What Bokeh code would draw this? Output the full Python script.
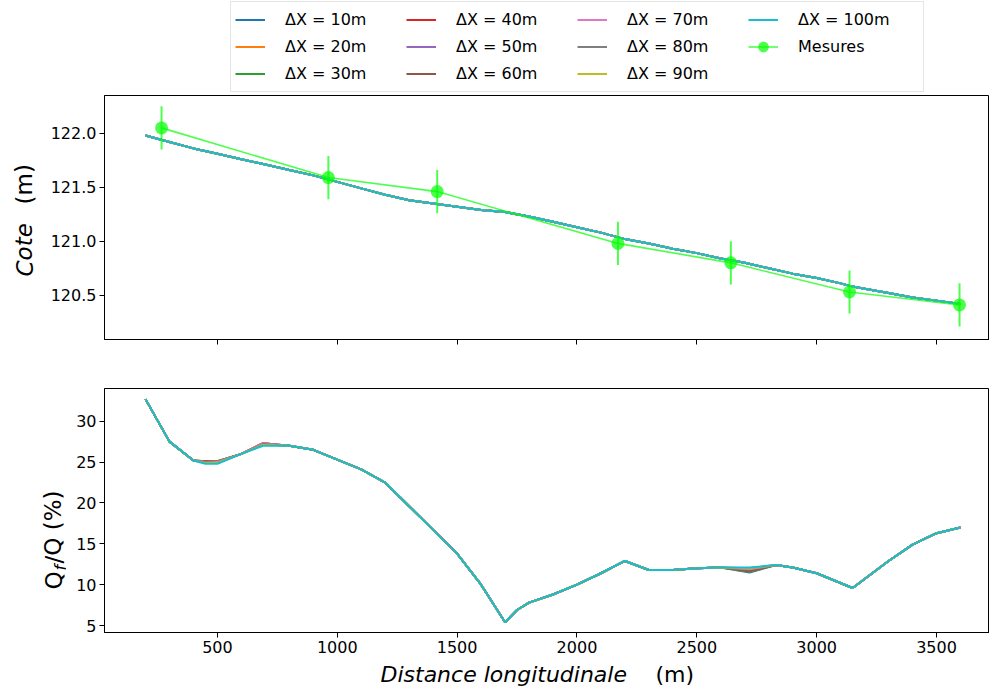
from bokeh.plotting import figure
from bokeh.models import (Range1d, FixedTicker, Legend, LegendItem, Label,
                          CustomJSTickFormatter)
from bokeh.layouts import column, row
from bokeh.embed import file_html
from bokeh.resources import INLINE

# ---------------- data ----------------
dx_labels = ["ΔX = 10m", "ΔX = 20m", "ΔX = 30m", "ΔX = 40m", "ΔX = 50m",
             "ΔX = 60m", "ΔX = 70m", "ΔX = 80m", "ΔX = 90m", "ΔX = 100m"]
colors = ["#1f77b4", "#ff7f0e", "#2ca02c", "#d62728", "#9467bd",
          "#8c564b", "#e377c2", "#7f7f7f", "#bcbd22", "#17becf"]

x_cote = [200, 300, 400, 500, 600, 700, 800, 900, 1000, 1100, 1200, 1300,
          1400, 1500, 1600, 1700, 1800, 1900, 2000, 2100, 2200, 2300, 2400,
          2500, 2600, 2700, 2800, 2900, 3000, 3100, 3150, 3200, 3300, 3400,
          3500, 3600]
cote_sim = [121.98, 121.92, 121.86, 121.81, 121.76, 121.71, 121.66, 121.61,
            121.55, 121.49, 121.43, 121.38, 121.35, 121.32, 121.29, 121.27,
            121.23, 121.18, 121.13, 121.08, 121.02, 120.98, 120.93, 120.89,
            120.84, 120.80, 120.75, 120.70, 120.66, 120.61, 120.58, 120.56,
            120.52, 120.48, 120.45, 120.42]

x_mes = [267, 963, 1417, 2171, 2642, 3137, 3596]
cote_mes = [122.05, 121.59, 121.46, 120.98, 120.80, 120.53, 120.41]
err_mes = [0.2, 0.2, 0.2, 0.2, 0.2, 0.2, 0.2]

x_q = [200, 300, 400, 450, 500, 600, 690, 800, 900, 1000, 1100, 1200, 1300,
       1400, 1500, 1600, 1700, 1750, 1800, 1900, 2000, 2100, 2200, 2300,
       2400, 2500, 2600, 2720, 2830, 2900, 3000, 3150, 3200, 3300, 3400,
       3500, 3600]
q_base = [32.7, 27.5, 25.2, 25.0, 25.0, 26.0, 27.2, 27.0, 26.5, 25.3, 24.1,
          22.5, 19.6, 16.7, 13.8, 10.0, 5.4, 6.9, 7.8, 8.8, 10.0, 11.4, 12.9,
          11.8, 11.8, 12.0, 12.1, 12.1, 12.4, 12.1, 11.4, 9.6, 10.7, 12.9,
          14.9, 16.3, 17.0]
# per-series values where the curves separate slightly
q_var_450 = [25.1, 25.1, 25.0, 25.1, 25.0, 25.0, 25.0, 25.0, 24.9, 24.8]
q_var_500 = [25.1, 25.1, 25.1, 25.0, 25.0, 25.0, 25.0, 24.9, 24.9, 24.8]
q_var_690 = [27.3, 27.3, 27.2, 27.3, 27.2, 27.2, 27.3, 27.2, 27.1, 27.0]
q_var_2720 = [11.5, 11.6, 11.6, 11.7, 11.8, 11.8, 11.9, 12.0, 12.0, 12.1]

x_ticks = [500, 1000, 1500, 2000, 2500, 3000, 3500]
cote_ticks = [120.5, 121.0, 121.5, 122.0]
q_ticks = [5, 10, 15, 20, 25, 30]

FONT = "DejaVu Sans"
GREEN = "#00ff00"
NAN = float("nan")


def style(p, standoff):
    p.outline_line_color = "black"
    p.outline_line_width = 1
    p.xgrid.visible = False
    p.ygrid.visible = False
    p.background_fill_color = "white"
    p.border_fill_color = "white"
    for ax in p.below + p.left:
        ax.axis_line_color = "black"
        ax.major_tick_line_color = "black"
        ax.major_tick_out = 5
        ax.major_tick_in = 0
        ax.minor_tick_line_color = None
        ax.major_label_text_font = FONT
        ax.major_label_text_font_size = "16px"
        ax.major_label_text_color = "black"
        ax.major_label_standoff = standoff
        ax.axis_label = None
        ax.axis_label_standoff = 0


def blank(w, h):
    f = figure(frame_width=w, frame_height=h, x_range=Range1d(0, w),
               y_range=Range1d(0, h), x_axis_type=None, y_axis_type=None,
               title=None, output_backend="svg", toolbar_location=None,
               min_border_left=0, min_border_right=0, min_border_top=0,
               min_border_bottom=0)
    f.outline_line_color = None
    f.xgrid.visible = False
    f.ygrid.visible = False
    f.background_fill_color = "white"
    f.border_fill_color = "white"
    return f


def txt(f, x, y, s, size="23px", style_="normal", align="left", angle=0.0):
    f.add_layout(Label(x=x, y=y, text=s, angle=angle, text_align=align,
                       text_baseline="middle", text_font=FONT,
                       text_font_size=size, text_font_style=style_,
                       text_color="black"))


# ---------------- legend strip (abs y 0..92) ----------------
legfig = blank(989, 92)
items = []
for lab, c in zip(dx_labels, colors):
    r = legfig.line(x=[NAN], y=[NAN], line_color=c, line_width=2)
    items.append(LegendItem(label=lab, renderers=[r]))
rl_leg = legfig.line(x=[NAN], y=[NAN], line_color=GREEN, line_alpha=0.7,
                     line_width=1.6)
rs_leg = legfig.scatter(x=[NAN], y=[NAN], size=13, fill_color=GREEN,
                        fill_alpha=0.7, line_color=None)
items.append(LegendItem(label="Mesures", renderers=[rl_leg, rs_leg]))
legend = Legend(items=items, location=(230, 0), orientation="vertical",
                nrows=3, glyph_width=30, glyph_height=27, label_standoff=20,
                label_width=121, label_height=27, spacing=0, padding=4,
                margin=0, label_text_font=FONT, label_text_font_size="16px",
                label_text_color="black",
                border_line_color="#cccccc", border_line_width=1,
                background_fill_color="white", background_fill_alpha=1.0)
legfig.add_layout(legend, "center")

# ---------------- top figure (abs y 92..363) ----------------
p1 = figure(frame_width=885, frame_height=244, title=None,
            x_range=Range1d(29, 3721), y_range=Range1d(120.09, 122.35),
            output_backend="svg", toolbar_location=None,
            min_border_left=64, min_border_right=0, min_border_top=3,
            min_border_bottom=24)
style(p1, 3)
p1.below[0].ticker = FixedTicker(ticks=x_ticks)
p1.below[0].formatter = CustomJSTickFormatter(code="return ''")
p1.left[0].ticker = FixedTicker(ticks=cote_ticks)
p1.left[0].formatter = CustomJSTickFormatter(code="return tick.toFixed(1)")

for c in colors:
    p1.line(x_cote, cote_sim, line_color=c, line_width=2)

lo = [y - e for y, e in zip(cote_mes, err_mes)]
hi = [y + e for y, e in zip(cote_mes, err_mes)]
p1.segment(x0=x_mes, y0=lo, x1=x_mes, y1=hi, line_color=GREEN,
           line_alpha=0.7, line_width=2)
p1.line(x_mes, cote_mes, line_color=GREEN, line_alpha=0.7, line_width=1.6)
p1.scatter(x_mes, cote_mes, size=13, fill_color=GREEN, fill_alpha=0.7,
           line_color=None)

lab1 = blank(40, 271)
txt(lab1, 24, 363 - 273, "Cote", style_="italic", angle=1.5708)
txt(lab1, 24, 363 - 201, "(m)", angle=1.5708)

# ---------------- bottom figure (abs y 363..660) ----------------
p2 = figure(frame_width=885, frame_height=244, title=None,
            x_range=p1.x_range, y_range=Range1d(4.15, 34.0),
            output_backend="svg", toolbar_location=None,
            min_border_left=38, min_border_right=0, min_border_top=25,
            min_border_bottom=28)
style(p2, 3)
p2.below[0].ticker = FixedTicker(ticks=x_ticks)
p2.left[0].ticker = FixedTicker(ticks=q_ticks)

for i, c in enumerate(colors):
    ys = list(q_base)
    ys[3] = q_var_450[i]
    ys[4] = q_var_500[i]
    ys[6] = q_var_690[i]
    ys[27] = q_var_2720[i]
    p2.line(x_q, ys, line_color=c, line_width=2)

lab2 = blank(66, 297)
txt(lab2, 53, 660 - 564, "Q", angle=1.5708)
txt(lab2, 60, 660 - 545, "f", size="16px", style_="italic", angle=1.5708)
txt(lab2, 53, 660 - 538, "/Q (%)", angle=1.5708)

# ---------------- x label (abs y 660..690) ----------------
xlab = blank(989, 30)
txt(xlab, 380, 690 - 674, "Distance longitudinale", size="22px",
    style_="italic")
txt(xlab, 655, 690 - 674, "(m)", size="22px")

layout = column(legfig, row(lab1, p1), row(lab2, p2), xlab)
open("out.html", "w").write(file_html(layout, INLINE))
